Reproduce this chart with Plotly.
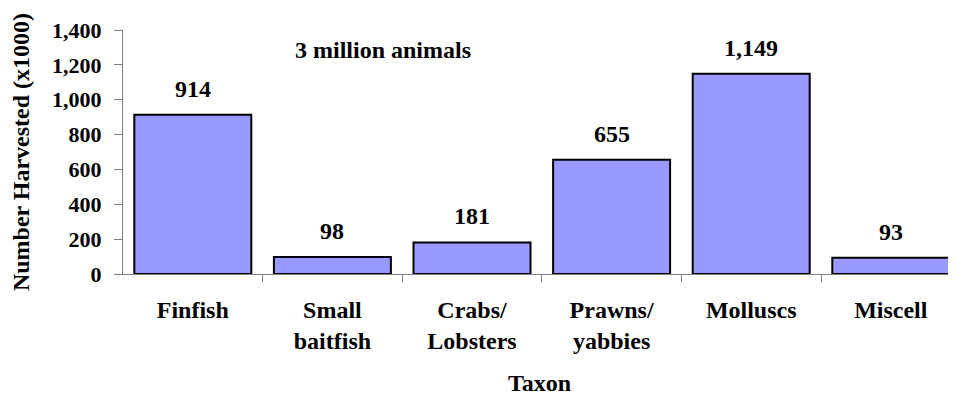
import plotly.graph_objects as go

categories = ["Finfish", "Small<br>baitfish", "Crabs/<br>Lobsters", "Prawns/<br>yabbies", "Molluscs", "Miscell"]
values = [914, 98, 181, 655, 1149, 93]
value_labels = ["914", "98", "181", "655", "1,149", "93"]
y_ticks = [0, 200, 400, 600, 800, 1000, 1200, 1400]
note = "3 million animals"
x_title = "Taxon"
y_title = "Number Harvested (x1000)"

FONT = "Liberation Serif"

def f(size):
    return dict(family=FONT, size=size, color="black", weight="bold")

fig = go.Figure()
fig.add_trace(go.Bar(
    x=list(range(len(categories))), y=values,
    marker=dict(color="#9999FF", line=dict(color="black", width=2)),
    width=0.838, hoverinfo="skip",
))

for i, (v, t) in enumerate(zip(values, value_labels)):
    fig.add_annotation(x=i, y=v, text=t, showarrow=False,
                       yanchor="bottom", yshift=11, font=f(24))

fig.add_annotation(xref="paper", yref="y", x=0.312, y=1285, text=note,
                   showarrow=False, xanchor="center", yanchor="middle", font=f(24))

# page body has an 8px margin, so the figure is 948x388 placed at (8, 8)
fig.update_layout(
    width=948, height=388,
    margin=dict(l=115, r=0, t=22, b=122),
    plot_bgcolor="white", paper_bgcolor="white",
    showlegend=False,
    font=dict(family=FONT, color="black"),
)
fig.update_xaxes(
    automargin=False,
    range=[-0.5, 5.467],
    tickmode="array", tickvals=list(range(len(categories))),
    ticktext=categories,
    showline=True, linecolor="#808080", linewidth=1,
    showgrid=False, zeroline=False,
    ticks="", tickfont=f(24),
    ticklabelstandoff=14,
    title=dict(text=x_title, font=f(24), standoff=32),
    minor=dict(tickmode="array", tickvals=[0.5, 1.5, 2.5, 3.5, 4.5],
               ticks="outside", ticklen=7, tickcolor="#808080", tickwidth=1),
)
fig.update_yaxes(
    automargin=False,
    range=[0, 1400], tickmode="array", tickvals=y_ticks, tickformat=",d",
    showline=True, linecolor="#808080", linewidth=1,
    showgrid=False, zeroline=False,
    ticks="outside", ticklen=8, tickcolor="#808080",
    tickfont=f(22),
    ticklabelstandoff=8,
    title=dict(text=y_title, font=f(24), standoff=16),
)

fig.write_html("out.html")
